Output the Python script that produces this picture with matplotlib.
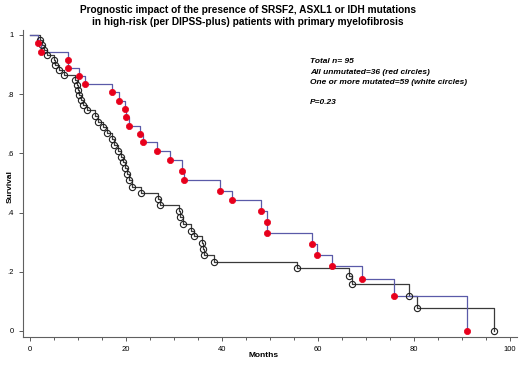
import numpy as np
import matplotlib
matplotlib.use('Agg')
from matplotlib import pyplot as plt
from matplotlib.ticker import MultipleLocator

plt.rcParams['font.family'] = ['Liberation Sans', 'DejaVu Sans']

# unmutated group (red circles): event month, survival after the event
unmut_months = [1.6, 2.2, 7.9, 7.9, 10.3, 11.5, 17.1, 18.6, 19.8, 20.1, 20.6, 22.9,
                23.5, 26.4, 29.2, 31.6, 32.1, 39.7, 42.0, 48.1, 49.3, 49.3, 58.8,
                59.8, 63.0, 69.3, 75.8, 91.0]
unmut_surv = [0.972, 0.944, 0.917, 0.889, 0.861, 0.833, 0.806, 0.778, 0.750, 0.722,
              0.694, 0.667, 0.639, 0.608, 0.576, 0.541, 0.509, 0.474, 0.442, 0.405,
              0.368, 0.331, 0.294, 0.257, 0.220, 0.177, 0.118, 0.0]

# one or more mutated (white circles)
mut_months = [2.0, 2.4, 2.9, 3.5, 4.9, 5.3, 6.0, 7.0, 9.4, 9.7, 10.0, 10.3, 10.7,
              11.1, 11.8, 13.5, 14.2, 15.2, 16.0, 17.0, 17.5, 18.3, 18.9, 19.3,
              19.7, 20.2, 20.7, 21.2, 23.1, 26.7, 27.1, 31.1, 31.3, 31.8, 33.5,
              34.2, 35.8, 36.0, 36.3, 38.3, 55.7, 66.5, 67.1, 79.0, 80.6, 96.7]
mut_surv = [0.983, 0.966, 0.949, 0.932, 0.915, 0.898, 0.881, 0.864, 0.847, 0.831,
            0.814, 0.797, 0.780, 0.763, 0.746, 0.725, 0.705, 0.688, 0.668, 0.648,
            0.628, 0.609, 0.589, 0.570, 0.550, 0.530, 0.510, 0.488, 0.467, 0.446,
            0.425, 0.404, 0.386, 0.361, 0.339, 0.321, 0.298, 0.277, 0.257, 0.234,
            0.213, 0.185, 0.158, 0.118, 0.079, 0.0]

title = ("Prognostic impact of the presence of SRSF2, ASXL1 or IDH mutations\n"
         "in high-risk (per DIPSS-plus) patients with primary myelofibrosis")
note_lines = ["Total n= 95", "All unmutated=36 (red circles)",
              "One or more mutated=59 (white circles)", "", "P=0.23"]
y_ticks = [0, 0.2, 0.4, 0.6, 0.8, 1]
y_tick_labels = ["0", ".2", ".4", ".6", ".8", "1"]
x_ticks = [0, 20, 40, 60, 80, 100]

fig = plt.figure(figsize=(5.2, 3.65), dpi=100)
ax = fig.add_axes([0.044, 0.077, 0.95, 0.841])

def km_line(months, surv, color):
    x = np.concatenate([[0], months])
    y = np.concatenate([[1], surv])
    ax.step(x, y, where='post', color=color, lw=0.9, zorder=2)

km_line(mut_months, mut_surv, '#3a3a3a')
km_line(unmut_months, unmut_surv, '#5a5aa8')

ax.plot(mut_months, mut_surv, 'o', ms=4.5, mfc='none', mec='#202020', mew=0.8, zorder=3)
ax.plot(unmut_months, unmut_surv, 'o', ms=4.5, mfc='#e8001c', mec='#e8001c', mew=0.5, zorder=4)

ax.set_xlim(-1.5, 101.5)
ax.set_ylim(-0.02, 1.017)
ax.set_xticks(x_ticks)
ax.xaxis.set_minor_locator(MultipleLocator(5))
ax.set_yticks(y_ticks)
ax.set_yticklabels(y_tick_labels)
ax.tick_params(labelsize=5.5, length=3, width=0.6, colors='#404040', labelcolor='black')
ax.tick_params(which='minor', length=2, width=0.6, colors='#404040')
for side in ['top', 'right']:
    ax.spines[side].set_visible(False)
for side in ['left', 'bottom']:
    ax.spines[side].set_color('#606060')
    ax.spines[side].set_linewidth(0.8)

fig.text(0.506, 0.027, "Months", ha='center', va='center', fontsize=6, fontweight='bold')
fig.text(0.02, 0.49, "Survival", ha='center', va='center', rotation=90, fontsize=6,
         fontweight='bold')

fig.text(0.476, 0.985, title, ha='center', va='top', fontsize=7.3, fontweight='bold',
         linespacing=1.15)
fig.text(0.596, 0.84, "\n".join(note_lines), ha='left', va='top', fontsize=6,
         fontweight='bold', style='italic', linespacing=1.65)

fig.savefig('out.png', dpi=100)
